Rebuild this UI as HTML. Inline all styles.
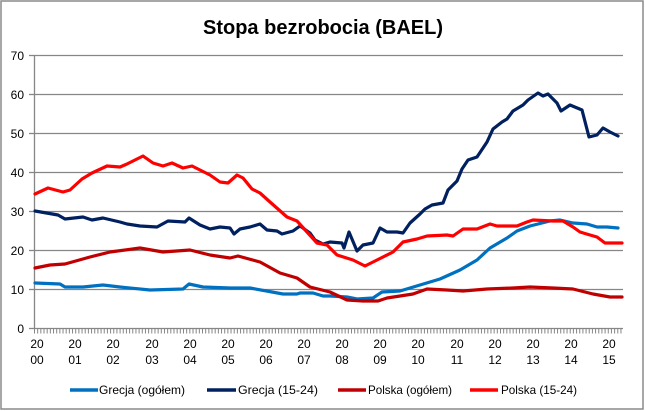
<!DOCTYPE html>
<html><head><meta charset="utf-8"><style>
html,body{margin:0;padding:0;background:#fff;}
svg{display:block;font-family:"Liberation Sans",sans-serif;}
</style></head><body>
<svg width="645" height="411" viewBox="0 0 645 411" xmlns="http://www.w3.org/2000/svg">
<rect x="1" y="1" width="642" height="408" fill="#fff" stroke="#8a8a8a" stroke-width="1.5"/>
<text x="323" y="34" text-anchor="middle" font-size="20" font-weight="bold" fill="#000">Stopa bezrobocia (BAEL)</text>
<g stroke="#868686" stroke-width="1.3">
<line x1="34" y1="55.5" x2="623" y2="55.5"/>
<line x1="34" y1="94.5" x2="623" y2="94.5"/>
<line x1="34" y1="133.5" x2="623" y2="133.5"/>
<line x1="34" y1="172.5" x2="623" y2="172.5"/>
<line x1="34" y1="211.5" x2="623" y2="211.5"/>
<line x1="34" y1="250.5" x2="623" y2="250.5"/>
<line x1="34" y1="289.5" x2="623" y2="289.5"/>
<line x1="34" y1="328.5" x2="623" y2="328.5"/>
<line x1="34.5" y1="55" x2="34.5" y2="329"/>
<line x1="29" y1="55.5" x2="34" y2="55.5"/><line x1="29" y1="94.5" x2="34" y2="94.5"/><line x1="29" y1="133.5" x2="34" y2="133.5"/><line x1="29" y1="172.5" x2="34" y2="172.5"/><line x1="29" y1="211.5" x2="34" y2="211.5"/><line x1="29" y1="250.5" x2="34" y2="250.5"/><line x1="29" y1="289.5" x2="34" y2="289.5"/><line x1="29" y1="328.5" x2="34" y2="328.5"/>
</g>
<line x1="34" y1="331" x2="623" y2="331" stroke="#868686" stroke-width="5" stroke-dasharray="1 2.17"/>
<g font-size="12" fill="#000" text-anchor="end">
<text x="24" y="60">70</text><text x="24" y="99">60</text><text x="24" y="138">50</text><text x="24" y="177">40</text><text x="24" y="216">30</text><text x="24" y="255">20</text><text x="24" y="294">10</text><text x="24" y="333">0</text>
</g>
<g font-size="12" fill="#000" text-anchor="middle">
<text x="37" y="348">20</text><text x="37" y="364">00</text>
<text x="75" y="348">20</text><text x="75" y="364">01</text>
<text x="113" y="348">20</text><text x="113" y="364">02</text>
<text x="152" y="348">20</text><text x="152" y="364">03</text>
<text x="190" y="348">20</text><text x="190" y="364">04</text>
<text x="228" y="348">20</text><text x="228" y="364">05</text>
<text x="266" y="348">20</text><text x="266" y="364">06</text>
<text x="304" y="348">20</text><text x="304" y="364">07</text>
<text x="342" y="348">20</text><text x="342" y="364">08</text>
<text x="380" y="348">20</text><text x="380" y="364">09</text>
<text x="418" y="348">20</text><text x="418" y="364">10</text>
<text x="457" y="348">20</text><text x="457" y="364">11</text>
<text x="495" y="348">20</text><text x="495" y="364">12</text>
<text x="533" y="348">20</text><text x="533" y="364">13</text>
<text x="571" y="348">20</text><text x="571" y="364">14</text>
<text x="609" y="348">20</text><text x="609" y="364">15</text>
</g>
<g fill="none" stroke-width="3.2" stroke-linejoin="round" stroke-linecap="round">
<polyline stroke="#0070C0" points="35,283 60,284 65,287 83,287 103,285 120,287 150,290 183,289 189,284 203,287 230,288 250,288 283,294 297,294 300,293 313,293 323,296 330,296 347,297 357,299 373,298 382,292 400,291 420,285 440,279 460,270 477,260 490,248 507,238 517,231 530,226 550,221 560,220 573,223 587,224 597,227 607,227 618,228"/>
<polyline stroke="#002060" points="35,211 58,215 65,219 83,217 92,220 103,218 120,222 127,224 140,226 157,227 168,221 185,222 189,218 200,225 210,229 220,227 230,228 234,234 240,229 250,227 260,224 267,230 277,231 282,234 293,231 300,226 310,233 315,240 323,244 330,242 342,243 344,248 349,232 357,251 363,245 373,243 380,228 387,232 397,232 403,233 410,223 420,214 425,209 432,205 443,203 448,190 457,181 462,169 468,160 477,157 487,142 493,129 502,122 507,119 513,111 523,105 528,100 538,93 543,96 548,94 557,103 561,111 570,105 582,110 589,137 597,135 603,128 610,132 618,136"/>
<polyline stroke="#C00000" points="35,268 50,265 65,264 90,257 110,252 140,248 163,252 190,250 210,255 230,258 238,256 260,262 280,273 297,278 310,287 330,292 347,300 363,301 378,301 387,298 413,294 427,289 447,290 463,291 487,289 513,288 530,287 553,288 573,289 593,294 610,297 622,297"/>
<polyline stroke="#FF0000" points="35,194 48,188 63,192 70,190 82,179 92,173 107,166 120,167 127,164 143,156 153,163 163,166 172,163 183,168 192,166 210,175 220,182 228,183 237,175 243,178 252,189 260,193 270,202 287,217 297,221 307,232 317,243 327,245 337,255 353,260 365,266 377,260 393,252 403,242 417,239 427,236 447,235 453,236 463,229 477,229 490,224 497,226 517,226 527,222 533,220 553,221 563,221 573,227 580,232 590,235 597,237 605,243 622,243"/>
</g>
<g stroke-width="3.5">
<line x1="70" y1="390" x2="98" y2="390" stroke="#0070C0"/>
<line x1="207" y1="390" x2="236" y2="390" stroke="#002060"/>
<line x1="338" y1="390" x2="366" y2="390" stroke="#C00000"/>
<line x1="470" y1="390" x2="498" y2="390" stroke="#FF0000"/>
</g>
<g font-size="12" fill="#000">
<text x="99" y="394" textLength="86" lengthAdjust="spacingAndGlyphs">Grecja (ogółem)</text>
<text x="238" y="394" textLength="80" lengthAdjust="spacingAndGlyphs">Grecja (15-24)</text>
<text x="368" y="394" textLength="84" lengthAdjust="spacingAndGlyphs">Polska (ogółem)</text>
<text x="501" y="394" textLength="76" lengthAdjust="spacingAndGlyphs">Polska (15-24)</text>
</g>
</svg>
</body></html>
